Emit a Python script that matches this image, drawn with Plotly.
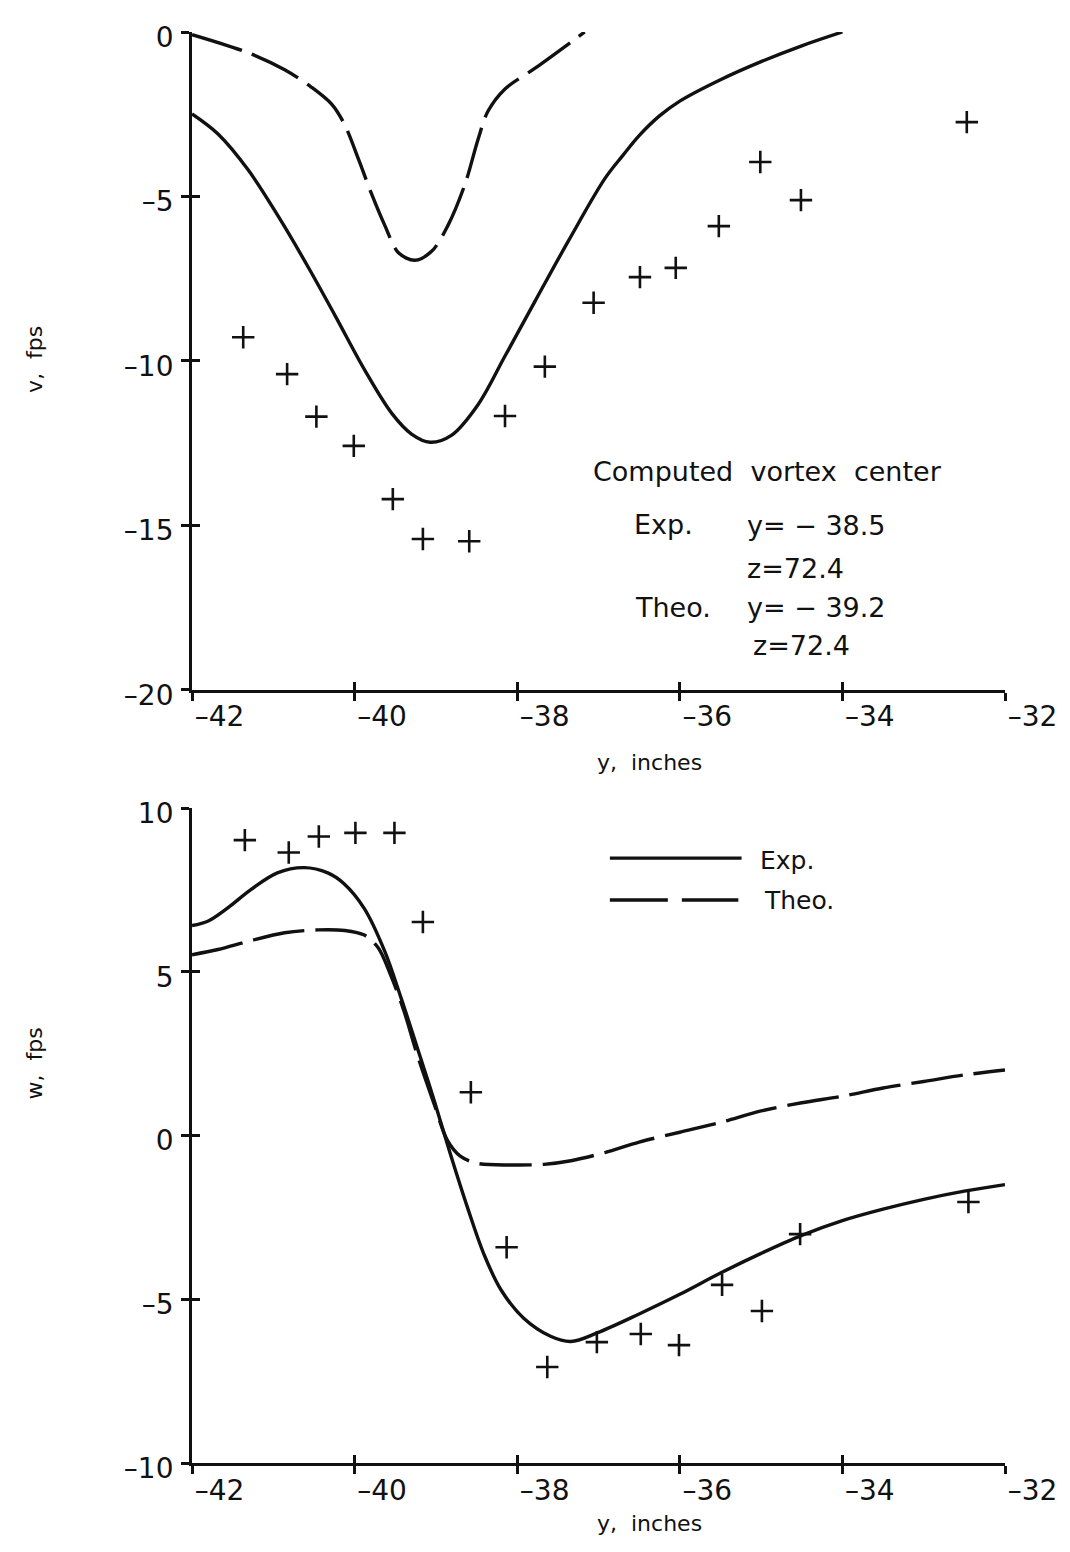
import plotly.graph_objects as go

# ---------------- data ----------------
# Top panel: v, fps versus y, inches
v_exp_y = [-42.0, -41.68, -41.31, -40.94, -40.57, -40.24, -39.87, -39.54, -39.30, -39.07,
           -38.81, -38.48, -38.15, -37.78, -37.37, -36.92, -36.7, -36.5, -36.25, -36.0,
           -35.5, -35.0, -34.5, -34.0]
v_exp = [-2.49, -3.10, -4.19, -5.60, -7.15, -8.62, -10.30, -11.60, -12.22, -12.47,
         -12.26, -11.32, -9.85, -8.18, -6.35, -4.45, -3.75, -3.15, -2.55, -2.1,
         -1.45, -0.9, -0.42, 0.0]

v_theo_y = [-42.0, -41.31, -40.86, -40.53, -40.28, -40.12, -39.95, -39.79, -39.63, -39.46,
            -39.26, -39.05, -38.85, -38.64, -38.48, -38.36, -38.15, -37.78, -37.17]
v_theo = [-0.08, -0.63, -1.15, -1.68, -2.20, -2.83, -3.88, -4.93, -5.87, -6.71,
          -6.94, -6.66, -5.87, -4.61, -3.25, -2.41, -1.73, -1.10, 0.0]

v_pts_y = [-41.37, -40.83, -40.47, -40.01, -39.53, -39.16, -38.59, -38.15, -37.66, -37.06,
           -36.49, -36.05, -35.52, -35.01, -34.51, -32.47]
v_pts = [-9.28, -10.40, -11.69, -12.58, -14.20, -15.41, -15.48, -11.67, -10.17, -8.23,
         -7.45, -7.17, -5.90, -3.95, -5.11, -2.74]

# Bottom panel: w, fps versus y, inches
w_exp_y = [-42.0, -41.8, -41.56, -41.28, -40.95, -40.62, -40.33, -40.13, -39.88, -39.63,
           -39.43, -39.23, -39.02, -38.82, -38.61, -38.41, -38.20, -37.92, -37.59, -37.34,
           -37.01, -36.5, -36.0, -35.5, -35.0, -34.5, -34.0, -33.5, -33.0, -32.5, -32.0]
w_exp = [6.41, 6.55, 6.95, 7.50, 8.02, 8.18, 8.02, 7.69, 6.93, 5.63,
         4.21, 2.69, 1.06, -0.58, -2.21, -3.62, -4.71, -5.58, -6.13, -6.29,
         -6.02, -5.45, -4.85, -4.2, -3.6, -3.05, -2.6, -2.25, -1.95, -1.7, -1.5]

w_theo_y = [-42.0, -41.68, -41.28, -40.86, -40.45, -40.12, -39.88, -39.71, -39.55, -39.39,
            -39.23, -39.02, -38.86, -38.70, -38.49, -38.08, -37.67, -37.34, -36.92, -36.5,
            -36.0, -35.5, -35.0, -34.5, -34.0, -33.5, -33.0, -32.5, -32.0]
w_theo = [5.52, 5.68, 5.95, 6.19, 6.28, 6.26, 6.12, 5.73, 4.86, 3.78,
          2.47, 0.95, -0.14, -0.63, -0.85, -0.90, -0.88, -0.77, -0.52, -0.2,
          0.1, 0.4, 0.75, 1.0, 1.2, 1.45, 1.65, 1.85, 2.0]

w_pts_y = [-41.35, -40.81, -40.44, -39.99, -39.51, -39.16, -38.57, -38.13, -37.63, -37.02,
           -36.48, -36.01, -35.48, -34.99, -34.52, -32.45]
w_pts = [9.02, 8.64, 9.13, 9.24, 9.24, 6.52, 1.32, -3.41, -7.07, -6.31,
         -6.06, -6.40, -4.56, -5.36, -3.01, -2.03]

x_ticks = [-42, -40, -38, -36, -34, -32]
x_ticktext = ["\u201342", "\u201340", "\u201338", "\u201336", "\u201334", "\u201332"]
v_ticks = [0, -5, -10, -15, -20]
v_ticktext = ["0", "\u20135", "\u201310", "\u201315", "\u201320"]
w_ticks = [10, 5, 0, -5, -10]
w_ticktext = ["10", "5", "0", "\u20135", "\u201310"]

FONT = "DejaVu Sans"
BLACK = "#111111"
DASH = "52px,11px"

fig = go.Figure()

line_solid = dict(color=BLACK, width=3.4, shape="spline", smoothing=1.0)
line_dash = dict(color=BLACK, width=3.4, shape="spline", smoothing=0.9, dash=DASH)
mk = dict(symbol="cross-thin", size=16, line=dict(color=BLACK, width=2.6), color=BLACK)

fig.add_trace(go.Scatter(x=v_exp_y, y=v_exp, mode="lines", line=line_solid,
                         xaxis="x", yaxis="y", showlegend=False))
fig.add_trace(go.Scatter(x=v_theo_y, y=v_theo, mode="lines", line=line_dash,
                         xaxis="x", yaxis="y", showlegend=False))
fig.add_trace(go.Scatter(x=v_pts_y, y=v_pts, mode="markers", marker=mk,
                         xaxis="x", yaxis="y", showlegend=False))

fig.add_trace(go.Scatter(x=w_exp_y, y=w_exp, mode="lines", line=line_solid,
                         xaxis="x2", yaxis="y2", showlegend=False))
fig.add_trace(go.Scatter(x=w_theo_y, y=w_theo, mode="lines", line=line_dash,
                         xaxis="x2", yaxis="y2", showlegend=False))
fig.add_trace(go.Scatter(x=w_pts_y, y=w_pts, mode="markers", marker=mk,
                         xaxis="x2", yaxis="y2", showlegend=False))

# invisible traces for the overlay axes that draw the inner half of crossing ticks
fig.add_trace(go.Scatter(x=[None], y=[None], xaxis="x3", yaxis="y3",
                         showlegend=False, hoverinfo="skip"))
fig.add_trace(go.Scatter(x=[None], y=[None], xaxis="x4", yaxis="y4",
                         showlegend=False, hoverinfo="skip"))

TOP = [0.5402, 1.0]
BOT = [0.0, 0.4577]

tickfont = dict(family=FONT, size=28, color=BLACK)


def xax(anchor, main=True, overlay=None):
    d = dict(anchor=anchor, domain=[0, 1], range=[-42, -32], tickvals=x_ticks,
             ticktext=x_ticktext, showgrid=False, zeroline=False, automargin=False,
             tickcolor=BLACK, tickwidth=2.5, ticklen=8)
    if main:
        d.update(ticks="outside", showline=True, linecolor=BLACK, linewidth=2.8,
                 ticklabelposition="outside right", tickfont=tickfont)
    else:
        d.update(ticks="inside", showline=False, showticklabels=False, overlaying=overlay)
    return d


def yax(anchor, dom, rng, vals, text, main=True, overlay=None):
    d = dict(anchor=anchor, domain=dom, range=rng, tickvals=vals, ticktext=text,
             showgrid=False, zeroline=False, automargin=False,
             tickcolor=BLACK, tickwidth=2.5, ticklen=8)
    if main:
        d.update(ticks="outside", showline=True, linecolor=BLACK, linewidth=2.8,
                 tickfont=tickfont, ticklabelshift=5, ticklabelstandoff=2)
    else:
        d.update(ticks="inside", showline=False, showticklabels=False, overlaying=overlay)
    return d


fig.update_layout(
    width=1062, height=1544,
    margin=dict(l=184, r=65, t=24, b=89),
    paper_bgcolor="white", plot_bgcolor="white",
    font=dict(family=FONT, color=BLACK),
    xaxis=xax("y"),
    yaxis=yax("x", TOP, [-20, 0], v_ticks, v_ticktext),
    xaxis2=xax("y2"),
    yaxis2=yax("x2", BOT, [-10, 10], w_ticks, w_ticktext),
    xaxis3=xax("y", main=False, overlay="x"),
    yaxis3=yax("x", TOP, [-20, 0], v_ticks, v_ticktext, main=False, overlay="y"),
    xaxis4=xax("y2", main=False, overlay="x2"),
    yaxis4=yax("x2", BOT, [-10, 10], w_ticks, w_ticktext, main=False, overlay="y2"),
)

# axis titles
title_font = dict(family=FONT, size=22, color=BLACK)
annots = [
    dict(text="y,  inches", x=0.5633, y=0.4892, xref="paper", yref="paper",
         showarrow=False, font=title_font),
    dict(text="y,  inches", x=0.5633, y=-0.0524, xref="paper", yref="paper",
         showarrow=False, font=title_font),
    dict(text="v,  fps", x=-0.2116, y=0.796, xref="paper", yref="paper",
         showarrow=False, font=title_font, textangle=-90),
    dict(text="w,  fps", x=-0.2116, y=0.253, xref="paper", yref="paper",
         showarrow=False, font=title_font, textangle=-90),
]

# text block in the top panel
tf = dict(family=FONT, size=27, color=BLACK)
annots += [
    dict(text="Computed  vortex  center", x=-34.92, y=-13.37, xref="x", yref="y",
         showarrow=False, font=tf, xanchor="center"),
    dict(text="Exp.", x=-36.59, y=-14.98, xref="x", yref="y",
         showarrow=False, font=tf, xanchor="left"),
    dict(text="y= \u2212 38.5", x=-35.20, y=-15.0, xref="x", yref="y",
         showarrow=False, font=tf, xanchor="left"),
    dict(text="z=72.4", x=-35.20, y=-16.3, xref="x", yref="y",
         showarrow=False, font=tf, xanchor="left"),
    dict(text="Theo.", x=-36.57, y=-17.5, xref="x", yref="y",
         showarrow=False, font=tf, xanchor="left"),
    dict(text="y= \u2212 39.2", x=-35.20, y=-17.5, xref="x", yref="y",
         showarrow=False, font=tf, xanchor="left"),
    dict(text="z=72.4", x=-35.13, y=-18.65, xref="x", yref="y",
         showarrow=False, font=tf, xanchor="left"),
]

# legend in the bottom panel
lf = dict(family=FONT, size=25, color=BLACK)
annots += [
    dict(text="Exp.", x=-35.04, y=8.41, xref="x2", yref="y2",
         showarrow=False, font=lf, xanchor="left"),
    dict(text="Theo.", x=-34.99, y=7.19, xref="x2", yref="y2",
         showarrow=False, font=lf, xanchor="left"),
]
fig.update_layout(annotations=annots)

fig.add_shape(type="line", x0=-36.86, x1=-35.24, y0=8.47, y1=8.47, xref="x2", yref="y2",
              line=dict(color=BLACK, width=3.4))
fig.add_shape(type="line", x0=-36.86, x1=-35.28, y0=7.19, y1=7.19, xref="x2", yref="y2",
              line=dict(color=BLACK, width=3.4, dash="58px,14px"))

fig.write_html("out.html")
